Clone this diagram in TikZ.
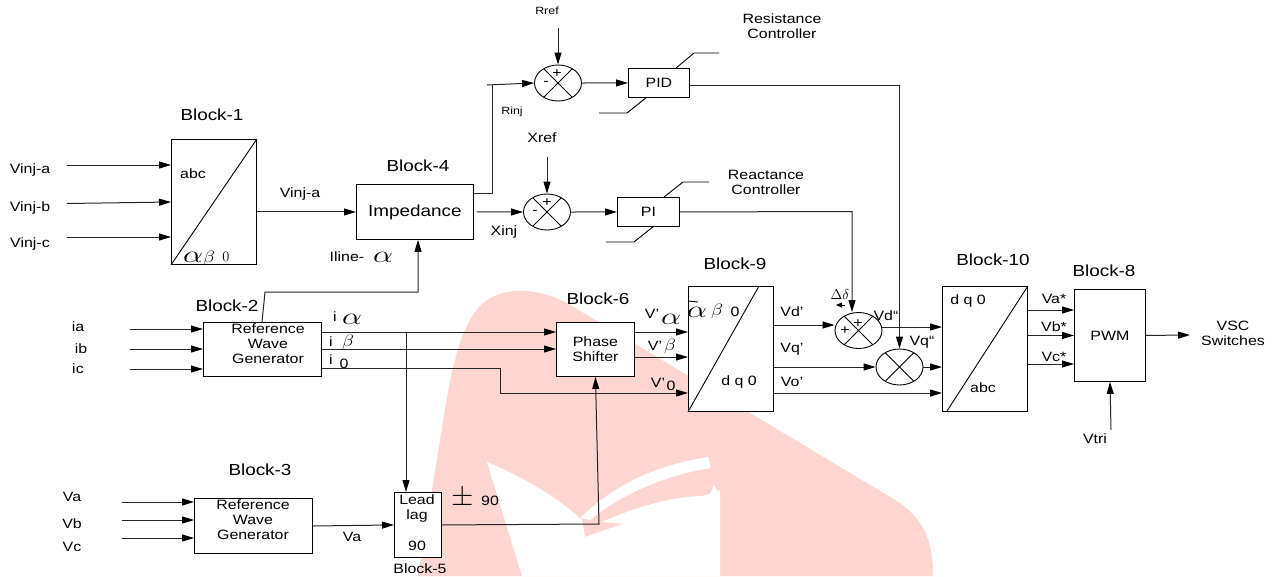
\documentclass[tikz,border=0pt]{standalone}
\usepackage{fontspec}
\setmainfont[FakeStretch=1.18]{Liberation Sans}
\usetikzlibrary{shapes.geometric,arrows.meta}
\definecolor{markpink}{HTML}{FDD6D1}
\newcommand{\bigalpha}{\scalebox{2.2}[1.65]{$\alpha$}}
\newcommand{\widebeta}{\scalebox{1.35}[1.15]{$\beta$}}
\tikzset{
  block/.style={draw,fill=white,minimum width=#1,inner sep=0pt,align=center,anchor=north west},
  sumnode/.style={draw,fill=white,ellipse,minimum width=47pt,minimum height=36pt,inner sep=0pt,
    path picture={\draw (path picture bounding box.center)+(-30pt,-30pt) -- +(30pt,30pt);
                  \draw (path picture bounding box.center)+(-30pt,30pt) -- +(30pt,-30pt);}},
  lbl/.style={inner sep=0pt,font=\fontsize{13.5}{15}\selectfont,align=center},
  smalllbl/.style={inner sep=0pt,font=\fontsize{10.5}{12}\selectfont},
  title/.style={inner sep=0pt,font=\fontsize{16}{18}\selectfont},
  wire/.style={draw=black!85,line width=1pt},
  arr/.style={wire,-{Triangle[length=12pt,width=7pt,color=black]}}
}
\begin{document}
\begin{tikzpicture}[x=1pt,y=-1pt,line width=0.9pt]
\useasboundingbox (0,0) rectangle (1274,576);

\fill[markpink] (418,576) -- (440,440) .. controls (448,390) and (455,340) .. (475,312) .. controls (490,290) and (525,282) .. (567,303) -- (900,503) .. controls (920,518) and (933,535) .. (933,576) -- cycle;
\fill[white] (487,462) .. controls (530,480) and (560,500) .. (582,520) -- (585,537) -- (720,490) -- (720,576) -- (522,576) -- cycle;
\fill[white] (580,518) .. controls (620,480) and (660,465) .. (708,457) -- (711,468) .. controls (665,475) and (620,495) .. (590,520) -- cycle;
\fill[white] (602,522) .. controls (640,505) and (680,495) .. (709,496) -- (714,485) -- (720,495) -- (640,525) -- cycle;

\node[block=85pt,minimum height=125pt] (abcab) at (171,139) {};
\node[block=117pt,minimum height=55pt,font=\fontsize{16}{18}\selectfont] (imp) at (356,184) {Impedance};
\node[block=118pt,minimum height=54pt] (refi) at (203,322) {};
\node[block=118pt,minimum height=55pt] (refv) at (194,498) {};
\node[block=47pt,minimum height=65pt] (leadlag) at (394,492) {};
\node[block=78pt,minimum height=54pt,font=\fontsize{13.5}{15}\selectfont] (phase) at (556,322) {Phase\\Shifter};
\node[block=85pt,minimum height=125pt] (abdq) at (688,286) {};
\node[block=85pt,minimum height=125pt] (dqab) at (942,286) {};
\node[block=71pt,minimum height=92pt,font=\fontsize{13.5}{15}\selectfont] (pwm) at (1074,289) {PWM};
\node[block=61pt,minimum height=29pt,font=\fontsize{13.5}{15}\selectfont] (pid) at (628,68) {PID};
\node[block=62pt,minimum height=29pt,font=\fontsize{13.5}{15}\selectfont] (pi) at (617,197) {PI};

\node[sumnode] (rsum) at (558,83) {};
\node[sumnode] (xsum) at (547,212) {};
\node[sumnode] (dsum) at (858.5,330.5) {};
\node[sumnode] (qsum) at (899.5,367) {};

\draw (abcab.south west) -- (abcab.north east);
\draw (abdq.south west) -- (759,286);
\draw (688,301) -- (698,302);
\draw (947,411) -- (dqab.north east);

\node[title] (t1) at (212,115) {Block-1};
\node[title] (t2) at (227,306) {Block-2};
\node[title] (t3) at (260,470) {Block-3};
\node[title] (t4) at (418,166) {Block-4};
\node[title] (t6) at (598,299) {Block-6};
\node[title] (t9) at (735,264) {Block-9};
\node[title] (t10) at (993,260) {Block-10};
\node[title] (t8) at (1104,271) {Block-8};
\node[lbl] (t5) at (420,569) {Block-5};

\node[lbl] (reftxt) at (268,344) {Reference\\Wave\\Generator};
\node[lbl] (reftxtb) at (253,520) {Reference\\Wave\\Generator};
\node[lbl] (lead) at (417,509) {Lead\\lag};
\node[lbl] (ninety) at (417,546) {90};
\node[lbl] (pm) at (463,498) {\scalebox{2}{$\pm$}};
\node[lbl] (pmval) at (490,501) {90};

\node[lbl] (abc) at (193,174) {abc};
\node[lbl] (aone) at (193,257) {\bigalpha};
\node[lbl] (bone) at (209,258) {\widebeta};
\node[lbl] (zone) at (226,257) {\fontsize{15}{15}\selectfont$0$};
\node[lbl] (atwo) at (697,312) {\bigalpha};
\node[lbl] (btwo) at (717,311) {\widebeta};
\node[lbl] (ztwo) at (735,312) {0};
\node[lbl] (dq0) at (739,382) {d q 0};
\node[lbl] (dq0b) at (968,301) {d q 0};
\node[lbl] (abcb) at (983,388) {abc};

\coordinate (ina) at (67,165);
\coordinate (inb) at (67,203.5);
\coordinate (inc) at (67,237);
\node[lbl] (la) at (30,170) {Vinj-a};
\node[lbl] (lb) at (30,208) {Vinj-b};
\node[lbl] (lc) at (30,244) {Vinj-c};
\draw[arr] (ina) -- (ina-|abcab.west);
\draw[arr] (inb) -- (abcab.west|-0,202);
\draw[arr] (inc) -- (inc-|abcab.west);

\node[lbl] (lv) at (300,194) {Vinj-a};
\draw[arr] (abcab.east|-imp.west) -- (imp.west);

\coordinate (ia) at (130,329);
\coordinate (ib) at (130,349);
\coordinate (ic) at (130,369);
\node[lbl] (lia) at (78,327) {ia};
\node[lbl] (lib) at (81,349) {ib};
\node[lbl] (lic) at (78,369) {ic};
\draw[arr] (ia) -- (ia-|refi.west);
\draw[arr] (ib) -- (ib-|refi.west);
\draw[arr] (ic) -- (ic-|refi.west);

\coordinate (va) at (122,502);
\coordinate (vb) at (122,520);
\coordinate (vc) at (122,538);
\node[lbl] (lva) at (72,497) {Va};
\node[lbl] (lvb) at (72,524) {Vb};
\node[lbl] (lvc) at (72,547) {Vc};
\draw[arr] (va) -- (va-|refv.west);
\draw[arr] (vb) -- (vb-|refv.west);
\draw[arr] (vc) -- (vc-|refv.west);

\draw[arr] (262,322) -- (265,292) -- (418,292) -- (imp.south-|418,239);
\node[lbl] (iline) at (347,257) {Iline-};
\node[lbl] (ilinea) at (383,257) {\bigalpha};

\coordinate (rstub) at (487,85);
\draw[wire] (imp.east|-0,193.5) -- (492,193.5) -- (492,85);
\draw[arr] (rstub) -- (rsum.west);
\node[smalllbl] (lrinj) at (512,112) {Rinj};
\coordinate (rref) at (558,28);
\node[smalllbl] (lrref) at (547,11) {Rref};
\draw[arr] (rref) -- (rsum.north);
\draw[arr] (rsum.east) -- (pid.west);
\node[lbl] (rp) at (557,74) {+};
\node[lbl] (rm) at (546,83) {-};

\draw[arr] (imp.east) ++(3,0) -- (xsum.west);
\node[lbl] (lxinj) at (504,232) {Xinj};
\coordinate (xref) at (547,157);
\node[lbl] (lxref) at (542,138) {Xref};
\draw[arr] (xref) -- (xsum.north);
\draw[arr] (xsum.east) -- (pi.west);
\node[lbl] (xp) at (547,203) {+};
\node[lbl] (xm) at (535,212) {-};

\draw (676,68) -- (694,53) -- (719,53);
\draw (647,97) -- (627,113) -- (599,113);
\draw (664,197) -- (683,182) -- (709,182);
\draw (654,226) -- (634,242) -- (606,242);
\node[lbl] (rctl) at (782,26) {Resistance\\Controller};
\node[lbl] (xctl) at (766,182) {Reactance\\Controller};

\draw[arr] (pid.east|-0,85) -- (qsum.north|-0,85) -- (qsum.north);
\draw[arr] (pi.east) -- (852,211.5) -- (852,0|-dsum.north);

\draw[arr] (refi.east|-0,332) -- (phase.west|-0,332);
\draw[arr] (refi.east|-0,349) -- (phase.west|-0,349);
\draw[arr] (refi.east|-0,368) -- (500,368) -- (500,393) -- (abdq.west|-0,393);
\draw[arr] (406,332) -- (leadlag.north-|406,0);
\node[lbl] (li) at (335,317) {i};
\node[lbl] (lia2) at (352,319) {\bigalpha};
\node[lbl] (lj) at (331,342) {i};
\node[lbl] (lb2) at (348,342) {\widebeta};
\node[lbl] (lk) at (331,360) {i};
\node[lbl] (l02) at (344,364) {0};

\draw[arr] (refv.east|-0,526) -- (leadlag.west);
\node[lbl] (lva2) at (352,537) {Va};
\draw[arr] (leadlag.east) -- (599,524) -- (phase.south);

\draw[arr] (phase.east|-0,332) -- (abdq.west|-0,332);
\draw[arr] (phase.east|-0,357) -- (abdq.west|-0,357);
\node[lbl] (lvp) at (652,314) {V'};
\node[lbl] (lvpa) at (671,319) {\bigalpha};
\node[lbl] (lvq) at (655,346) {V'};
\node[lbl] (lvqb) at (670,346) {\widebeta};
\node[lbl] (lvr) at (658,383) {V'};
\node[lbl] (lvr0) at (671,386) {0};

\node[lbl] (lvd) at (792,312) {Vd'};
\node[lbl] (lvq2) at (792,349) {Vq'};
\node[lbl] (lvo) at (792,382) {Vo'};
\draw[arr] (abdq.east|-0,325) -- (dsum.west|-0,325);
\draw[arr] (abdq.east|-qsum.west) -- (qsum.west);
\draw[arr] (abdq.east|-0,393) -- (dqab.west|-0,393);
\draw[arr] (dsum.east|-0,327) -- (dqab.west|-0,327);
\draw[arr] (qsum.east) -- (dqab.west|-qsum.east);
\node[lbl] (dp) at (858,324) {+};
\node[lbl] (dq) at (845,331) {+};
\node[lbl] (ldd) at (840,294) {$\Delta\delta$};
\draw[-{Triangle[length=6pt,width=5pt]}] (845,305) -- (836,305);
\node[lbl] (lvd2) at (886,316) {Vd“};
\node[lbl] (lvq3) at (922,342) {Vq“};

\draw[arr] (dqab.east|-0,310) -- (pwm.west|-0,310);
\draw[arr] (dqab.east|-pwm.west) -- (pwm.west);
\draw[arr] (dqab.east|-0,364) -- (pwm.west|-0,364);
\node[lbl] (lsa) at (1054,299) {Va*};
\node[lbl] (lsb) at (1054,327) {Vb*};
\node[lbl] (lsc) at (1054,357) {Vc*};
\coordinate (vsc) at (1190,335);
\draw[arr] (pwm.east) -- (vsc);
\node[lbl] (lvsc) at (1233,333.5) {VSC\\Switches};
\coordinate (vtri) at (1111,430);
\draw[arr] (vtri) -- (pwm.south-|1110,0);
\node[lbl] (lvt) at (1095,439) {Vtri};

\end{tikzpicture}
\end{document}
